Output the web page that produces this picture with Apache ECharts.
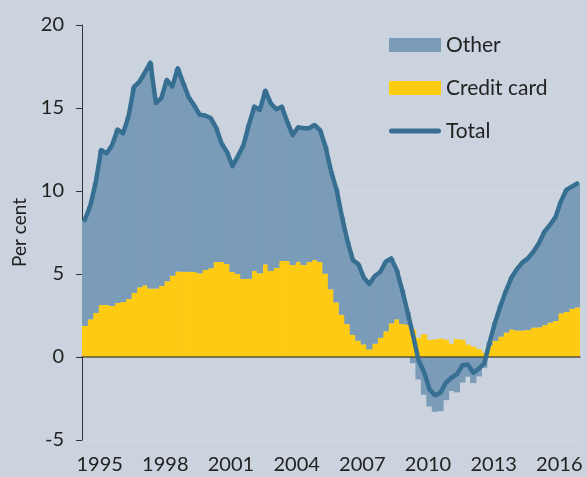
<!DOCTYPE html>
<html>
<head>
<meta charset="utf-8">
<script src="https://cdn.jsdelivr.net/npm/echarts@6/dist/echarts.min.js"></script>
<style>
html, body { margin: 0; padding: 0; background: #cbd3de; }
#echart { width: 587px; height: 477px; }
</style>
</head>
<body>
<div id="echart"></div>
<script>
// quarterly categories, 1994 Q1 .. 2016 Q3
var quarters = [];
for (var y = 1994; y <= 2016; y++) {
    for (var q = 1; q <= 4; q++) {
        if (y === 2016 && q === 4) break;
        quarters.push(y + ' Q' + q);
    }
}
var labelYears = ['1995', '1998', '2001', '2004', '2007', '2010', '2013', '2016'];
var tickYears = ['1996', '1998', '2000', '2002', '2004', '2006', '2008', '2010', '2012', '2014', '2016'];

var creditCard = [1.87, 2.27, 2.65, 3.13, 3.13, 3.07, 3.25, 3.31, 3.49, 3.86, 4.2, 4.32,
    4.12, 4.12, 4.28, 4.56, 4.9, 5.15, 5.14, 5.14, 5.12, 5.04, 5.24, 5.35,
    5.72, 5.72, 5.6, 5.12, 5.0, 4.7, 4.72, 5.18, 5.04, 5.58, 5.18, 5.36,
    5.78, 5.78, 5.54, 5.74, 5.54, 5.72, 5.84, 5.72, 5.02, 4.08, 3.29, 2.54,
    1.98, 1.33, 0.98, 0.76, 0.46, 0.8, 1.15, 1.55, 2.03, 2.27, 1.99, 1.95,
    1.67, 1.15, 1.37, 1.03, 1.05, 1.11, 1.04, 0.8, 1.08, 1.04, 0.74, 0.62,
    0.47, 0.25, 0.7, 0.97, 1.23, 1.47, 1.66, 1.6, 1.6, 1.63, 1.77, 1.79,
    1.92, 2.07, 2.17, 2.63, 2.71, 2.9, 2.99];

var other = [6.38, 6.83, 7.85, 9.34, 9.14, 9.68, 10.45, 10.16, 10.99, 12.41, 12.39, 12.83,
    13.61, 11.18, 11.32, 12.13, 11.39, 12.24, 11.36, 10.51, 10.03, 9.56, 9.31, 9.05,
    8.1, 7.15, 6.75, 6.38, 7.1, 8.05, 9.28, 9.9, 9.84, 10.46, 10.1, 9.56,
    9.3, 8.4, 7.83, 8.1, 8.24, 8.06, 8.14, 7.95, 7.65, 7.12, 6.81, 5.91,
    5.02, 4.51, 4.62, 4.02, 3.94, 4.08, 3.97, 4.19, 3.91, 2.97, 2.05, 0.75,
    -0.37, -1.35, -2.27, -2.98, -3.3, -3.26, -2.6, -2.05, -2.13, -1.54, -1.19, -1.57,
    -1.17, -0.65, 0.2, 1.13, 1.87, 2.53, 3.14, 3.7, 4.1, 4.32, 4.58, 5.06,
    5.63, 5.88, 6.24, 6.73, 7.35, 7.36, 7.46];

var total = [8.25, 9.1, 10.5, 12.47, 12.27, 12.75, 13.7, 13.47, 14.48, 16.27, 16.59, 17.15,
    17.73, 15.3, 15.6, 16.69, 16.29, 17.39, 16.5, 15.65, 15.15, 14.6, 14.55, 14.4,
    13.82, 12.87, 12.35, 11.5, 12.1, 12.75, 14.0, 15.08, 14.88, 16.04, 15.28, 14.92,
    15.08, 14.18, 13.37, 13.84, 13.78, 13.78, 13.98, 13.67, 12.67, 11.2, 10.1, 8.45,
    7.0, 5.84, 5.6, 4.78, 4.4, 4.88, 5.12, 5.74, 5.94, 5.24, 4.04, 2.7,
    1.3, -0.2, -0.9, -1.95, -2.3, -2.15, -1.55, -1.25, -1.05, -0.5, -0.45, -0.95,
    -0.7, -0.4, 0.9, 2.1, 3.1, 4.0, 4.8, 5.3, 5.7, 5.95, 6.35, 6.85,
    7.55, 7.95, 8.41, 9.36, 10.06, 10.26, 10.45];

var font = 'Lato';
var lineColor = '#376f93';
var myChart = echarts.init(document.getElementById('echart'));
var option = {
    backgroundColor: '#cbd3de',
    animation: false,
    grid: { left: 82, right: 7, top: 25, bottom: 37 },
    legend: {
        orient: 'vertical',
        left: 389,
        top: 34,
        padding: 0,
        itemWidth: 52,
        itemHeight: 14,
        itemGap: 21,
        data: [
            { name: 'Other', icon: 'rect' },
            { name: 'Credit card', icon: 'rect' },
            {
                name: 'Total',
                icon: 'path://M2.5,0 L49.5,0 A2.5,2.5 0 0 1 49.5,5 L2.5,5 A2.5,2.5 0 0 1 2.5,0 Z',
                itemStyle: { color: lineColor, borderWidth: 0 }
            }
        ],
        textStyle: { fontFamily: font, fontSize: 21, color: '#222', lineHeight: 22 }
    },
    xAxis: [
        {
            // zero line with ticks every two years
            type: 'category',
            data: quarters,
            z: 3,
            axisLine: { onZero: true, lineStyle: { color: 'rgba(50,50,45,0.8)', width: 1.5 } },
            axisTick: {
                length: 6,
                lineStyle: { color: '#555', width: 1.5 },
                interval: function (index, value) {
                    return value.indexOf('Q1') > 0 && tickYears.indexOf(value.slice(0, 4)) >= 0;
                }
            },
            axisLabel: { show: false }
        },
        {
            // year labels along the bottom
            type: 'category',
            data: quarters,
            position: 'bottom',
            axisLine: { show: false, onZero: false },
            axisTick: { show: false },
            axisLabel: {
                margin: 15,
                fontFamily: font,
                fontSize: 20,
                color: '#222',
                padding: [0, 14, 0, 0],
                interval: function (index, value) {
                    return value.indexOf('Q1') > 0 && labelYears.indexOf(value.slice(0, 4)) >= 0;
                },
                formatter: function (value) { return value.slice(0, 4); }
            }
        }
    ],
    yAxis: {
        type: 'value',
        min: -5,
        max: 20,
        interval: 5,
        name: 'Per cent',
        nameLocation: 'middle',
        nameGap: 53,
        nameTextStyle: { fontFamily: font, fontSize: 19, color: '#222' },
        axisLine: { show: true, lineStyle: { color: '#333', width: 1 } },
        axisTick: { show: true, length: 6, lineStyle: { color: '#333' } },
        axisLabel: { margin: 18, fontFamily: font, fontSize: 20, color: '#222' },
        splitLine: { lineStyle: { color: '#d9dcda', type: 'dotted', width: 1 } }
    },
    series: [
        {
            name: 'Credit card',
            type: 'bar',
            stack: 'debt',
            barWidth: 6.3,
            itemStyle: { color: '#fecb14' },
            data: creditCard
        },
        {
            name: 'Other',
            type: 'bar',
            stack: 'debt',
            barWidth: 6.3,
            itemStyle: { color: '#7a9cb8' },
            data: other
        },
        {
            name: 'Total',
            type: 'line',
            z: 4,
            symbol: 'none',
            data: total,
            lineStyle: { color: lineColor, width: 4.5, cap: 'round', join: 'round' },
            itemStyle: { color: lineColor }
        }
    ]
};
myChart.setOption(option);
window.onresize = myChart.resize;
</script>
</body>
</html>
